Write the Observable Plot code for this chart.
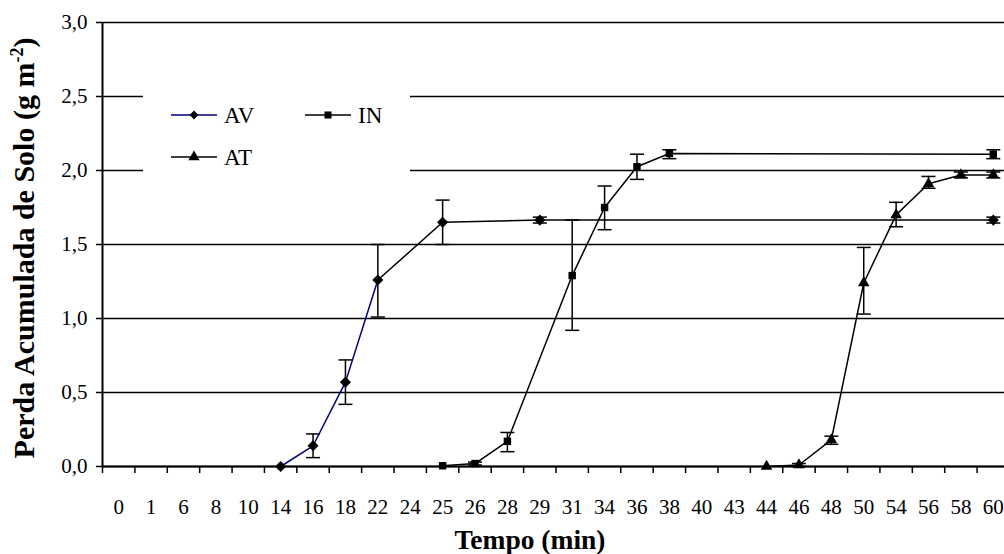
<!DOCTYPE html>
<html>
<head>
<meta charset="utf-8">
<script src="https://cdn.jsdelivr.net/npm/d3@7"></script>
<script src="https://cdn.jsdelivr.net/npm/@observablehq/plot@0.6"></script>
<style>
  body { margin: 0; background: #fff; }
  svg { display: block; }
  svg text { font-family: "Liberation Serif", "DejaVu Serif", "Times New Roman", serif !important; }
</style>
</head>
<body>
<div id="chart"></div>
<script>
// Sampling times (min), shown as evenly spaced categories
const times = [0, 1, 6, 8, 10, 14, 16, 18, 22, 24, 25, 26, 28, 29, 31, 34, 36, 38, 40, 43, 44, 46, 48, 50, 54, 56, 58, 60];
const yTicks = [0, 0.5, 1, 1.5, 2, 2.5, 3];

// AV
const avTimes = [14, 16, 18, 22, 25, 29, 60];
const avMean  = [0.00, 0.14, 0.57, 1.26, 1.65, 1.665, 1.665];
const avLow   = [null, 0.06, 0.42, 1.01, 1.50, 1.645, 1.645];
const avHigh  = [null, 0.22, 0.72, 1.50, 1.80, 1.685, 1.685];

// IN
const inTimes = [25, 26, 28, 31, 34, 36, 38, 60];
const inMean  = [0.005, 0.02, 0.17, 1.29, 1.75, 2.025, 2.115, 2.11];
const inLow   = [null, 0.01, 0.10, 0.92, 1.60, 1.94, 2.08, 2.08];
const inHigh  = [null, 0.03, 0.23, 1.665, 1.895, 2.11, 2.14, 2.14];

// AT
const atTimes = [44, 46, 48, 50, 54, 56, 58, 60];
const atMean  = [0.00, 0.01, 0.18, 1.24, 1.70, 1.91, 1.97, 1.97];
const atLow   = [null, 0.00, 0.15, 1.03, 1.62, 1.88, 1.95, 1.95];
const atHigh  = [null, 0.02, 0.205, 1.48, 1.785, 1.96, 1.99, 1.99];

const rowsOf = (series, ts, mean, low, high) =>
  ts.map((t, k) => ({series, t, i: times.indexOf(t), mean: mean[k], low: low[k], high: high[k]}));

const av = rowsOf("AV", avTimes, avMean, avLow, avHigh);
const inn = rowsOf("IN", inTimes, inMean, inLow, inHigh);
const at = rowsOf("AT", atTimes, atMean, atLow, atHigh);
const all = [...av, ...inn, ...at];
const withErr = all.filter(d => d.low != null);

const NAVY = "#000080";
const FONT = '"Liberation Serif", "DejaVu Serif", "Times New Roman", serif';
const comma = d => d.toFixed(1).replace(".", ",");

// horizontal cap for the error bars
const cap = {draw(ctx) { ctx.moveTo(-7, 0); ctx.lineTo(7, 0); }};

const chart = Plot.plot({
  width: 1004,
  height: 554,
  marginLeft: 102,
  marginRight: -5,
  marginTop: 22,
  marginBottom: 88,
  style: {fontFamily: FONT, fontSize: "21px", background: "#fff", color: "#000", overflow: "hidden"},
  x: {type: "linear", domain: [-0.5, times.length - 0.5]},
  y: {domain: [0, 3]},
  marks: [
    Plot.gridY(yTicks, {stroke: "#000", strokeOpacity: 1, strokeWidth: 1.5}),
    Plot.axisY(yTicks, {
      tickSize: 6, tickPadding: 9, tickFormat: comma, fontSize: 21,
      strokeWidth: 1.5, label: null
    }),
    Plot.axisX(d3.range(times.length + 1).map(i => i - 0.5), {
      tickSize: 7, tickFormat: () => "", strokeWidth: 1.5, label: null
    }),
    Plot.axisX(d3.range(times.length), {
      tickSize: 0, tickPadding: 33, tickFormat: i => times[i], fontSize: 21, label: null
    }),
    Plot.ruleX([-0.5], {stroke: "#000", strokeWidth: 2}),
    Plot.ruleY([0], {stroke: "#000", strokeWidth: 2}),

    // error bars
    Plot.ruleX(withErr, {x: "i", y1: "low", y2: "high", stroke: "#000", strokeWidth: 1.5}),
    Plot.dot(withErr, {x: "i", y: "low", symbol: cap, fill: "none", stroke: "#000", strokeWidth: 1.5}),
    Plot.dot(withErr, {x: "i", y: "high", symbol: cap, fill: "none", stroke: "#000", strokeWidth: 1.5}),

    // series lines
    Plot.line(av.filter(d => d.t <= 22), {x: "i", y: "mean", stroke: NAVY, strokeWidth: 1.5}),
    Plot.line(av.filter(d => d.t >= 22), {x: "i", y: "mean", stroke: "#000", strokeWidth: 1.5}),
    Plot.line(inn, {x: "i", y: "mean", stroke: "#000", strokeWidth: 1.5}),
    Plot.line(at, {x: "i", y: "mean", stroke: "#000", strokeWidth: 1.5}),

    // markers
    Plot.dot(av, {x: "i", y: "mean", symbol: "diamond2", r: 5, fill: "#000", stroke: "none"}),
    Plot.dot(inn, {x: "i", y: "mean", symbol: "square", r: 4.2, fill: "#000", stroke: "none"}),
    Plot.dot(at, {x: "i", y: "mean", symbol: "triangle", r: 4.3, fill: "#000", stroke: "none"})
  ]
});

document.getElementById("chart").appendChild(chart);

const svg = d3.select(chart);

// axis titles
svg.append("text")
  .attr("x", 530).attr("y", 549)
  .attr("text-anchor", "middle")
  .attr("font-family", FONT).attr("font-size", 27.5).attr("font-weight", "bold")
  .text("Tempo (min)");

const yt = svg.append("text")
  .attr("transform", "translate(34,248) rotate(-90)")
  .attr("text-anchor", "middle")
  .attr("font-family", FONT).attr("font-size", 30).attr("font-weight", "bold");
yt.append("tspan").text("Perda Acumulada de Solo (g m");
yt.append("tspan").attr("font-size", 18).attr("dy", -11).text("-2");
yt.append("tspan").attr("dy", 11).text(")");

// legend
const legendItems = [
  {name: "AV", color: NAVY, symbol: d3.symbolDiamond2, size: 50, x: 171, y: 115},
  {name: "IN", color: "#000", symbol: d3.symbolSquare, size: 50, x: 305, y: 115},
  {name: "AT", color: "#000", symbol: d3.symbolTriangle, size: 55, x: 171, y: 157}
];
const lg = svg.append("g");
lg.append("rect").attr("x", 143).attr("y", 86).attr("width", 267).attr("height", 92).attr("fill", "#fff");
for (const it of legendItems) {
  lg.append("line").attr("x1", it.x).attr("x2", it.x + 46).attr("y1", it.y).attr("y2", it.y)
    .attr("stroke", it.color).attr("stroke-width", 1.5);
  lg.append("path").attr("d", d3.symbol(it.symbol, it.size)())
    .attr("transform", `translate(${it.x + 23},${it.y})`).attr("fill", "#000");
  lg.append("text").attr("x", it.x + 53).attr("y", it.y + 8)
    .attr("text-anchor", "start")
    .attr("font-family", FONT).attr("font-size", 23).text(it.name);
}
</script>
</body>
</html>
